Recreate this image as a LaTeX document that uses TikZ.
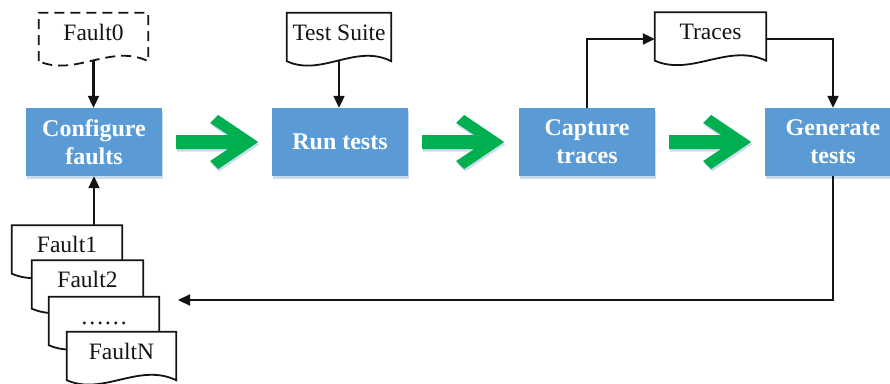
\documentclass[tikz,border=0pt]{standalone}
\usepackage{fontspec}
\setmainfont{Liberation Serif}
\usetikzlibrary{arrows.meta,calc,shadows}
\definecolor{boxblue}{HTML}{5B9BD5}
\definecolor{arrowgreen}{HTML}{00B050}
\definecolor{shadowblue}{HTML}{C9DCF0}
\definecolor{inkline}{HTML}{141414}
\newcommand\docframe[3][]{%
  \path[docline,#1] let \p1=(#2.south west), \p2=(#2.north east), \n1={\x2-\x1} in
    (\x1,\y1) -- (\x1,\y2) -- (\x2,\y2) -- (\x2,\y1)
    .. controls ({\x1+0.66*\n1},{\y1+18pt}) and ({\x1+0.33*\n1},{\y1-16pt}) .. (\x1,\y1) -- cycle;
  \node[doctext] (#2-t) at (#2) {#3};}
\begin{document}
\begin{tikzpicture}[x=1pt,y=-1pt,
  procbox/.style={rectangle, fill=boxblue, minimum width=136pt, minimum height=68pt,
    inner sep=0pt, align=center, text=white,
    font=\fontsize{24}{28}\selectfont\bfseries,
    drop shadow={shadow xshift=1pt,shadow yshift=-2.5pt,fill=shadowblue,opacity=1}},
  docnode/.style={rectangle, minimum width=#1, minimum height=48pt, inner sep=0pt},
  doctext/.style={inner sep=0pt, text height=16pt, text depth=10pt,
    font=\fontsize{23.5}{28}\selectfont, text=inkline},
  docline/.style={line width=1.8pt, draw=inkline, fill=white},
  conn/.style={line width=2.1pt, draw=inkline, -{Triangle[length=12pt,width=11pt]}},
  greenarrow/.pic={\fill[arrowgreen,
      drop shadow={shadow xshift=1pt,shadow yshift=-2.5pt,fill=shadowblue,opacity=1}]
      (0,-7) -- (52,-7) -- (34,-19) -- (42,-27) -- (82,0) -- (42,27) -- (34,19)
      -- (52,7) -- (0,7) -- cycle;}]
\useasboundingbox (0,0) rectangle (890,383);
\clip (0,0) rectangle (890,383);

% process boxes
\node[procbox] (conf) at (94,142) {Configure\\faults};
\node[procbox] (run)  at (340,142) {Run tests};
\node[procbox] (cap)  at (587,142) {Capture\\traces};
\node[procbox] (gen)  at (833,142) {Generate\\tests};

% green arrows
\pic at ($(conf.east)+(14,0)$) {greenarrow};
\pic at ($(run.east)+(14,0)$) {greenarrow};
\pic at ($(cap.east)+(14,0)$) {greenarrow};

% documents
\node[docnode=109pt] (f0) at (93.5,37) {};
\docframe[dash pattern=on 10pt off 6pt]{f0}{Fault0}
\node[docnode=104pt] (ts) at (339,37) {};
\docframe{ts}{Test Suite}
\node[docnode=111pt] (tr) at (710.5,36.5) {};
\docframe{tr}{Traces}

\node[docnode=110pt] (f1) at (67,249.5) {};
\docframe{f1}{Fault1}
\node[docnode=111pt] (f2) at (87.5,284.5) {};
\docframe{f2}{Fault2}
\node[docnode=110pt] (fd) at (104,321) {};
\docframe{fd}{……}
\node[docnode=109pt] (fN) at (121.5,356) {};
\docframe{fN}{FaultN}

% connectors
\draw[conn] (f0.south) -- (f0.south |- conf.north);
\draw[conn] (ts.south) -- (ts.south |- run.north);
\draw[conn] (cap.north) |- ([yshift=-2.5pt]tr.west);
\draw[conn] ([yshift=-2.5pt]tr.east) -| (gen.north);
\draw[conn] (f1.north -| conf.south) -- (conf.south);
\coordinate (fb) at (178,300);
\draw[conn] (gen.south) |- (fb);
\end{tikzpicture}
\end{document}
